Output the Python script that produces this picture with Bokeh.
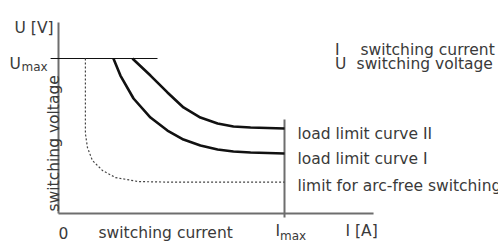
import math
from bokeh.plotting import figure
from bokeh.models import Range1d
from bokeh.core.properties import value
from bokeh.embed import file_html
from bokeh.resources import INLINE

# ---- data (I in units where I_max = 10, U in units where U_max = 10) ----
I_MAX = 10.0
U_MAX = 10.0

curve1_I = [2.43, 2.74, 3.32, 4.07, 4.82, 5.53, 6.28, 7.04, 7.74, 8.50, 10.0]
curve1_U = [10.0, 8.90, 7.42, 6.19, 5.35, 4.77, 4.39, 4.13, 4.00, 3.94, 3.87]

curve2_I = [3.27, 4.07, 4.82, 5.53, 6.28, 7.04, 7.74, 8.50, 10.0]
curve2_U = [10.0, 8.90, 7.81, 6.84, 6.19, 5.81, 5.61, 5.55, 5.48]

arc_I = [1.19, 1.19, 1.28, 1.50, 1.95, 2.52, 3.54, 5.04, 10.0]
arc_U = [10.0, 5.16, 4.26, 3.42, 2.77, 2.32, 2.06, 2.02, 2.02]

curve_labels = ["load limit curve II", "load limit curve I", "limit for arc-free switching"]
legend_symbols = ["I", "U"]
legend_texts = ["switching current", "switching voltage"]

FONT = value("DejaVu Sans")
TXT = "#3a3a3a"
FS = "15.5px"

p = figure(width=498, height=241, output_backend="svg", toolbar_location=None,
           x_range=Range1d(-2.5664, 19.469), y_range=Range1d(-1.8065, 13.742),
           min_border=0, x_axis_type=None, y_axis_type=None)
p.outline_line_color = None
p.background_fill_color = "white"
p.border_fill_color = "white"

# axes
p.segment(x0=[0, 0], y0=[0, 0], x1=[0, 13.94], y1=[12.32, 0],
          line_color="#6e6e6e", line_width=2)
# I_max marker line
p.segment(x0=[I_MAX], y0=[-0.26], x1=[I_MAX], y1=[6.06],
          line_color="#6e6e6e", line_width=2)
# U_max line
p.segment(x0=[-0.35], y0=[U_MAX], x1=[4.38], y1=[U_MAX],
          line_color="#111111", line_width=1.2)

# curves
p.line(arc_I, arc_U, line_color="#444444", line_width=1.2, line_dash="2 2")
p.line(curve1_I, curve1_U, line_color="#111111", line_width=2.6)
p.line(curve2_I, curve2_U, line_color="#111111", line_width=2.6)

def txt(x, y, s, size=FS, align="left", angle=0.0):
    p.text(x=[x], y=[y], text=[s], text_font=FONT, text_font_size=size,
           text_color=TXT, text_align=align, text_baseline="alphabetic", angle=angle)

# axis labels
txt(-0.22, 12.0, "U [V]", align="right")
txt(-2.17, 9.677, "U")
txt(-1.64, 9.42, "max", size="12px")
txt(0.22, -1.226, "0", align="center")
txt(1.77, -1.226, "switching current")
txt(9.60, -1.161, "I")
txt(9.80, -1.48, "max", size="12px")
txt(12.70, -1.161, "I [A]")
txt(-0.22, 0.13, "switching voltage", angle=math.pi / 2)

# curve labels
for s, yy in zip(curve_labels, [5.161, 3.484, 1.742]):
    txt(10.575, yy, s)

# legend
for sym, yy in zip(legend_symbols, [10.58, 9.677]):
    txt(12.24, yy, sym)
txt(13.36, 10.58, legend_texts[0])
txt(13.19, 9.677, legend_texts[1])

open("out.html", "w").write(file_html(p, INLINE))
